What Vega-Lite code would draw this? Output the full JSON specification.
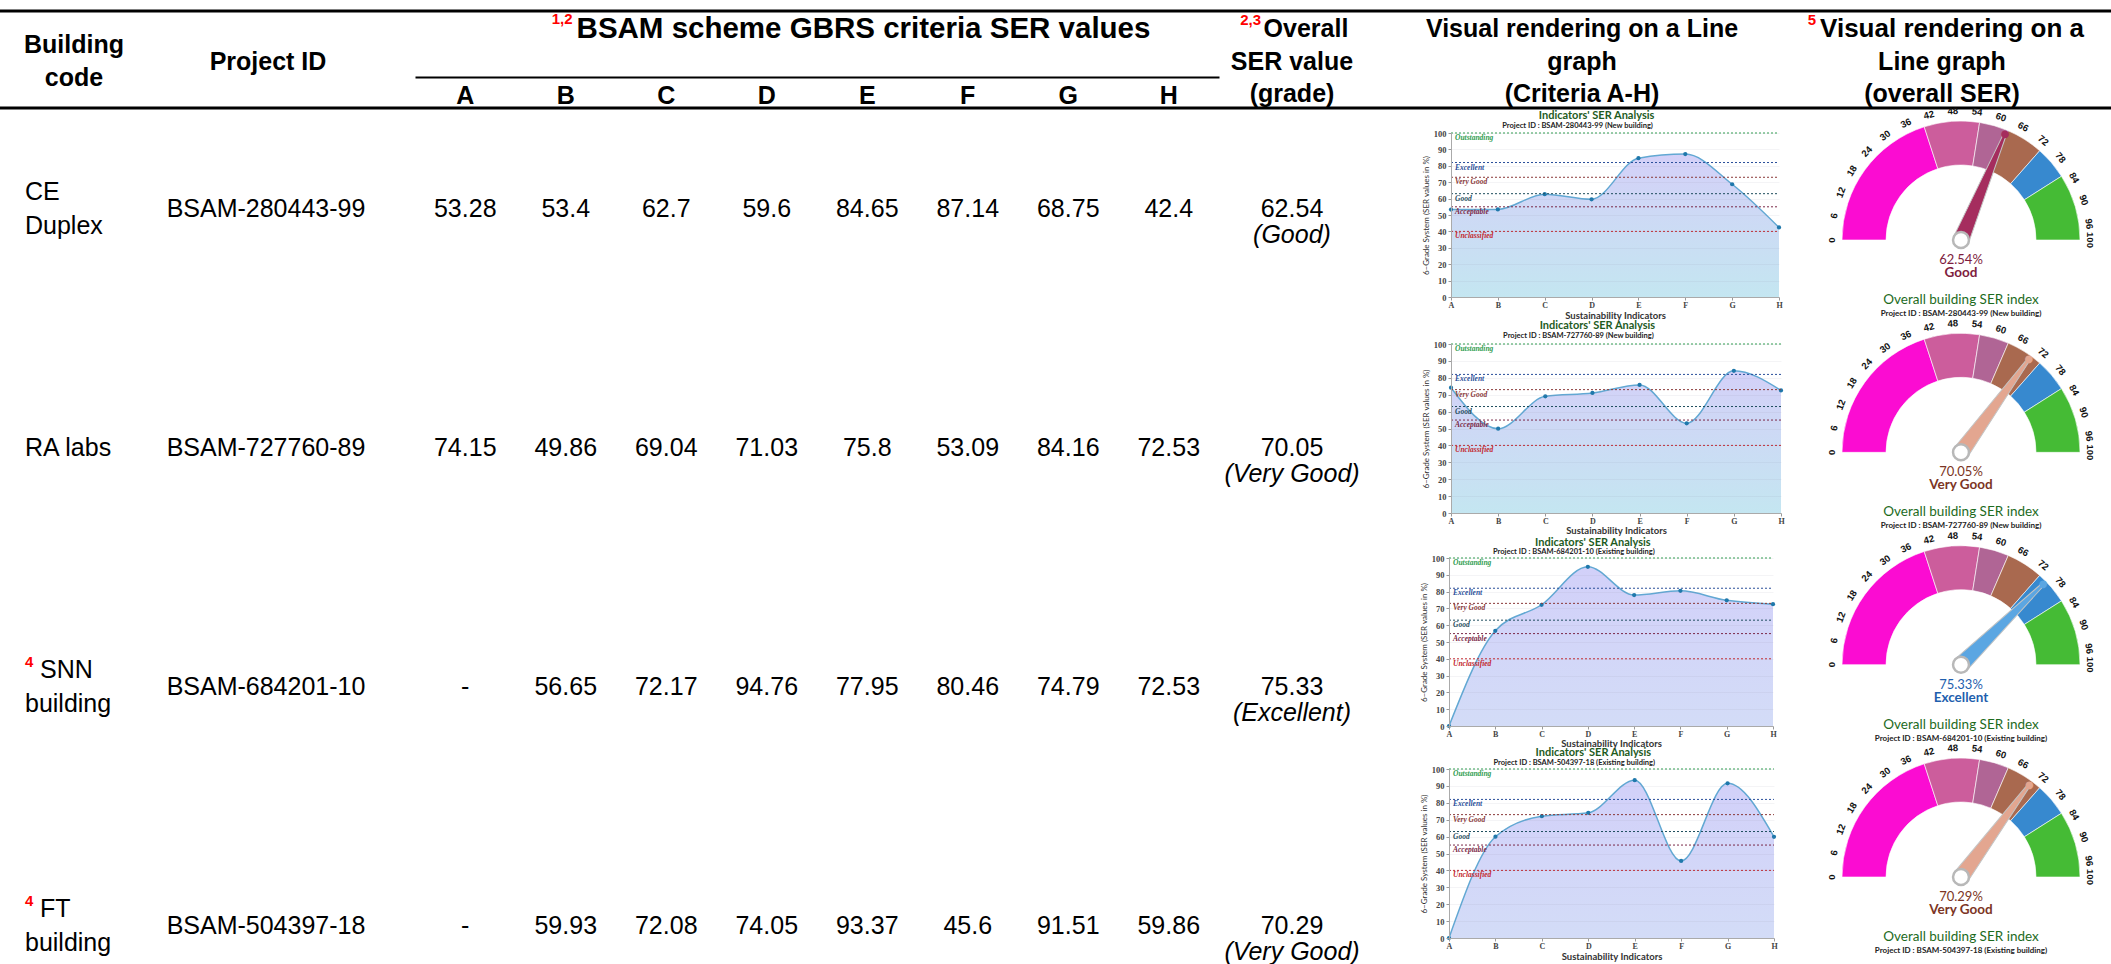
{
"$schema":"https://vega.github.io/schema/vega-lite/v6.json",
"width":2111,"height":964,"autosize":{"type":"none"},"padding":0,"background":"#ffffff",
"config":{"view":{"stroke":null},"font":"Liberation Sans"},
"datasets":{
"rules":[{"rule":"top"},{"rule":"bottom"}],
"header":[
{"col":"Building code","line":1.5,"text":"Building"},
{"col":"Building code","line":2.5,"text":"code"},
{"col":"Project ID","line":2,"text":"Project ID"},
{"col":"Criteria","line":1,"text":"BSAM scheme GBRS criteria SER values","sup":"1,2"},
{"col":"Overall","line":1,"text":"Overall","sup":"2,3"},
{"col":"Overall","line":2,"text":"SER value"},
{"col":"Overall","line":3,"text":"(grade)"},
{"col":"Line chart","line":1,"text":"Visual rendering on a Line"},
{"col":"Line chart","line":2,"text":"graph"},
{"col":"Line chart","line":3,"text":"(Criteria A-H)"},
{"col":"Gauge","line":1,"text":"Visual rendering on a","sup":"5"},
{"col":"Gauge","line":2,"text":"Line graph"},
{"col":"Gauge","line":3,"text":"(overall SER)"}
],
"rows":[
{"building":"CE Duplex","name1":"CE","name2":"Duplex","note":null,"project":"BSAM-280443-99","overall":62.54,"grade":"Good","type":"New building"},
{"building":"RA labs","name1":"RA labs","name2":null,"note":null,"project":"BSAM-727760-89","overall":70.05,"grade":"Very Good","type":"New building"},
{"building":"SNN building","name1":"SNN","name2":"building","note":"4","project":"BSAM-684201-10","overall":75.33,"grade":"Excellent","type":"Existing building"},
{"building":"FT building","name1":"FT","name2":"building","note":"4","project":"BSAM-504397-18","overall":70.29,"grade":"Very Good","type":"Existing building"}
],
"ser":[
{"building":"CE Duplex","criterion":"A","value":53.28},
{"building":"CE Duplex","criterion":"B","value":53.4},
{"building":"CE Duplex","criterion":"C","value":62.7},
{"building":"CE Duplex","criterion":"D","value":59.6},
{"building":"CE Duplex","criterion":"E","value":84.65},
{"building":"CE Duplex","criterion":"F","value":87.14},
{"building":"CE Duplex","criterion":"G","value":68.75},
{"building":"CE Duplex","criterion":"H","value":42.4},
{"building":"RA labs","criterion":"A","value":74.15},
{"building":"RA labs","criterion":"B","value":49.86},
{"building":"RA labs","criterion":"C","value":69.04},
{"building":"RA labs","criterion":"D","value":71.03},
{"building":"RA labs","criterion":"E","value":75.8},
{"building":"RA labs","criterion":"F","value":53.09},
{"building":"RA labs","criterion":"G","value":84.16},
{"building":"RA labs","criterion":"H","value":72.53},
{"building":"SNN building","criterion":"A","value":0,"assessed":false},
{"building":"SNN building","criterion":"B","value":56.65},
{"building":"SNN building","criterion":"C","value":72.17},
{"building":"SNN building","criterion":"D","value":94.76},
{"building":"SNN building","criterion":"E","value":77.95},
{"building":"SNN building","criterion":"F","value":80.46},
{"building":"SNN building","criterion":"G","value":74.79},
{"building":"SNN building","criterion":"H","value":72.53},
{"building":"FT building","criterion":"A","value":0,"assessed":false},
{"building":"FT building","criterion":"B","value":59.93},
{"building":"FT building","criterion":"C","value":72.08},
{"building":"FT building","criterion":"D","value":74.05},
{"building":"FT building","criterion":"E","value":93.37},
{"building":"FT building","criterion":"F","value":45.6},
{"building":"FT building","criterion":"G","value":91.51},
{"building":"FT building","criterion":"H","value":59.86}
],
"bands":[
{"grade":"Unclassified","from":0,"to":40,"building":["CE Duplex","RA labs","SNN building","FT building"]},
{"grade":"Acceptable","from":40,"to":55,"building":["CE Duplex","RA labs","SNN building","FT building"]},
{"grade":"Good","from":55,"to":63,"building":["CE Duplex","RA labs","SNN building","FT building"]},
{"grade":"Very Good","from":63,"to":73,"building":["CE Duplex","RA labs","SNN building","FT building"]},
{"grade":"Excellent","from":73,"to":82,"building":["CE Duplex","RA labs","SNN building","FT building"]},
{"grade":"Outstanding","from":82,"to":100,"building":["CE Duplex","RA labs","SNN building","FT building"]}
],
"dial":[
{"building":"CE Duplex","tick":[0,6,12,18,24,30,36,42,48,54,60,66,72,78,84,90,96,100]},
{"building":"RA labs","tick":[0,6,12,18,24,30,36,42,48,54,60,66,72,78,84,90,96,100]},
{"building":"SNN building","tick":[0,6,12,18,24,30,36,42,48,54,60,66,72,78,84,90,96,100]},
{"building":"FT building","tick":[0,6,12,18,24,30,36,42,48,54,60,66,72,78,84,90,96,100]}
]
},
"resolve":{"scale":{"x":"independent","y":"independent","color":"independent","theta":"independent","angle":"independent"},"axis":{"x":"independent","y":"independent"}},
"layer":[
{"data":{"name":"rules"},"mark":{"type":"rule","color":"#000000","strokeWidth":3},"encoding":{"y":{"field":"rule","type":"nominal","scale":{"type":"point","domain":["top","bottom"],"range":[11,108],"padding":0},"axis":null}}},

{"data":{"name":"header"},"transform":[{"filter":"datum.col === 'Building code'"}],"mark":{"type":"text","fontSize":25,"fontWeight":"bold","align":"center","baseline":"middle","color":"#000"},"encoding":{"x":{"field":"col","type":"nominal","scale":{"type":"point","domain":["Building code"],"range":[74,74],"padding":0},"axis":null},"y":{"field":"line","type":"quantitative","scale":{"domain":[1,3],"range":[29,94],"zero":false,"nice":false},"axis":null},"text":{"field":"text"}}},
{"data":{"name":"header"},"transform":[{"filter":"datum.col === 'Project ID'"}],"mark":{"type":"text","fontSize":25,"fontWeight":"bold","align":"center","baseline":"middle","color":"#000"},"encoding":{"x":{"field":"col","type":"nominal","scale":{"type":"point","domain":["Project ID"],"range":[268,268],"padding":0},"axis":null},"y":{"field":"line","type":"quantitative","scale":{"domain":[1,3],"range":[29,94],"zero":false,"nice":false},"axis":null},"text":{"field":"text"}}},
{"data":{"name":"header"},"transform":[{"filter":"datum.col === 'Criteria'"}],"mark":{"type":"text","fontSize":29.5,"fontWeight":"bold","align":"center","baseline":"middle","color":"#000","dx":12.5},"encoding":{"x":{"field":"col","type":"nominal","scale":{"type":"point","domain":["Criteria"],"range":[851,851],"padding":0},"axis":null},"y":{"field":"line","type":"quantitative","scale":{"domain":[1,3],"range":[29,94],"zero":false,"nice":false},"axis":null},"text":{"field":"text"}}},
{"data":{"name":"header"},"transform":[{"filter":"datum.col === 'Criteria'"}],"mark":{"type":"text","fontSize":15,"fontWeight":"bold","align":"right","baseline":"middle","color":"#ff0000","dx":-278.5,"dy":-10},"encoding":{"x":{"field":"col","type":"nominal","scale":{"type":"point","domain":["Criteria"],"range":[851,851],"padding":0},"axis":null},"y":{"field":"line","type":"quantitative","scale":{"domain":[1,3],"range":[29,94],"zero":false,"nice":false},"axis":null},"text":{"field":"sup"}}},
{"data":{"name":"header"},"transform":[{"filter":"datum.col === 'Overall' && !datum.sup"}],"mark":{"type":"text","fontSize":25,"fontWeight":"bold","align":"center","baseline":"middle","color":"#000"},"encoding":{"x":{"field":"col","type":"nominal","scale":{"type":"point","domain":["Overall"],"range":[1292,1292],"padding":0},"axis":null},"y":{"field":"line","type":"quantitative","scale":{"domain":[1,3],"range":[29,94],"zero":false,"nice":false},"axis":null},"text":{"field":"text"}}},
{"data":{"name":"header"},"transform":[{"filter":"datum.col === 'Overall' && datum.sup"}],"mark":{"type":"text","fontSize":25,"fontWeight":"bold","align":"center","baseline":"middle","color":"#000","dx":14},"encoding":{"x":{"field":"col","type":"nominal","scale":{"type":"point","domain":["Overall"],"range":[1292,1292],"padding":0},"axis":null},"y":{"field":"line","type":"quantitative","scale":{"domain":[1,3],"range":[29,94],"zero":false,"nice":false},"axis":null},"text":{"field":"text"}}},
{"data":{"name":"header"},"transform":[{"filter":"datum.col === 'Overall' && datum.sup"}],"mark":{"type":"text","fontSize":15,"fontWeight":"bold","align":"right","baseline":"middle","color":"#ff0000","dx":-31,"dy":-9},"encoding":{"x":{"field":"col","type":"nominal","scale":{"type":"point","domain":["Overall"],"range":[1292,1292],"padding":0},"axis":null},"y":{"field":"line","type":"quantitative","scale":{"domain":[1,3],"range":[29,94],"zero":false,"nice":false},"axis":null},"text":{"field":"sup"}}},
{"data":{"name":"header"},"transform":[{"filter":"datum.col === 'Line chart'"}],"mark":{"type":"text","fontSize":25,"fontWeight":"bold","align":"center","baseline":"middle","color":"#000"},"encoding":{"x":{"field":"col","type":"nominal","scale":{"type":"point","domain":["Line chart"],"range":[1582,1582],"padding":0},"axis":null},"y":{"field":"line","type":"quantitative","scale":{"domain":[1,3],"range":[29,94],"zero":false,"nice":false},"axis":null},"text":{"field":"text"}}},
{"data":{"name":"header"},"transform":[{"filter":"datum.col === 'Gauge' && !datum.sup"}],"mark":{"type":"text","fontSize":25,"fontWeight":"bold","align":"center","baseline":"middle","color":"#000"},"encoding":{"x":{"field":"col","type":"nominal","scale":{"type":"point","domain":["Gauge"],"range":[1942,1942],"padding":0},"axis":null},"y":{"field":"line","type":"quantitative","scale":{"domain":[1,3],"range":[29,94],"zero":false,"nice":false},"axis":null},"text":{"field":"text"}}},
{"data":{"name":"header"},"transform":[{"filter":"datum.col === 'Gauge' && datum.sup"}],"mark":{"type":"text","fontSize":26,"fontWeight":"bold","align":"center","baseline":"middle","color":"#000","dx":10},"encoding":{"x":{"field":"col","type":"nominal","scale":{"type":"point","domain":["Gauge"],"range":[1942,1942],"padding":0},"axis":null},"y":{"field":"line","type":"quantitative","scale":{"domain":[1,3],"range":[29,94],"zero":false,"nice":false},"axis":null},"text":{"field":"text"}}},
{"data":{"name":"header"},"transform":[{"filter":"datum.col === 'Gauge' && datum.sup"}],"mark":{"type":"text","fontSize":15,"fontWeight":"bold","align":"right","baseline":"middle","color":"#ff0000","dx":-126,"dy":-9},"encoding":{"x":{"field":"col","type":"nominal","scale":{"type":"point","domain":["Gauge"],"range":[1942,1942],"padding":0},"axis":null},"y":{"field":"line","type":"quantitative","scale":{"domain":[1,3],"range":[29,94],"zero":false,"nice":false},"axis":null},"text":{"field":"sup"}}},

{"data":{"name":"rows"},"transform":[{"filter":"datum.name2 == null"}],"mark":{"type":"text","fontSize":25,"align":"left","baseline":"middle","color":"#000"},"encoding":{"x":{"datum":"Building code","type":"nominal","scale":{"type":"point","domain":["Building code"],"range":[25,25],"padding":0},"axis":null},"y":{"field":"building","type":"nominal","scale":{"type":"point","domain":["CE Duplex","RA labs","SNN building","FT building"],"range":[209,926],"padding":0},"axis":null},"text":{"field":"name1"}}},
{"data":{"name":"rows"},"transform":[{"filter":"datum.name2 != null && datum.note == null"}],"mark":{"type":"text","fontSize":25,"align":"left","baseline":"middle","color":"#000","dy":-17},"encoding":{"x":{"datum":"Building code","type":"nominal","scale":{"type":"point","domain":["Building code"],"range":[25,25],"padding":0},"axis":null},"y":{"field":"building","type":"nominal","scale":{"type":"point","domain":["CE Duplex","RA labs","SNN building","FT building"],"range":[209,926],"padding":0},"axis":null},"text":{"field":"name1"}}},
{"data":{"name":"rows"},"transform":[{"filter":"datum.note != null"}],"mark":{"type":"text","fontSize":25,"align":"left","baseline":"middle","color":"#000","dy":-17,"dx":15},"encoding":{"x":{"datum":"Building code","type":"nominal","scale":{"type":"point","domain":["Building code"],"range":[25,25],"padding":0},"axis":null},"y":{"field":"building","type":"nominal","scale":{"type":"point","domain":["CE Duplex","RA labs","SNN building","FT building"],"range":[209,926],"padding":0},"axis":null},"text":{"field":"name1"}}},
{"data":{"name":"rows"},"transform":[{"filter":"datum.note != null"}],"mark":{"type":"text","fontSize":15,"fontWeight":"bold","align":"left","baseline":"middle","color":"#ff0000","dy":-25},"encoding":{"x":{"datum":"Building code","type":"nominal","scale":{"type":"point","domain":["Building code"],"range":[25,25],"padding":0},"axis":null},"y":{"field":"building","type":"nominal","scale":{"type":"point","domain":["CE Duplex","RA labs","SNN building","FT building"],"range":[209,926],"padding":0},"axis":null},"text":{"field":"note"}}},
{"data":{"name":"rows"},"transform":[{"filter":"datum.name2 != null"}],"mark":{"type":"text","fontSize":25,"align":"left","baseline":"middle","color":"#000","dy":17},"encoding":{"x":{"datum":"Building code","type":"nominal","scale":{"type":"point","domain":["Building code"],"range":[25,25],"padding":0},"axis":null},"y":{"field":"building","type":"nominal","scale":{"type":"point","domain":["CE Duplex","RA labs","SNN building","FT building"],"range":[209,926],"padding":0},"axis":null},"text":{"field":"name2"}}},
{"data":{"name":"rows"},"mark":{"type":"text","fontSize":25,"align":"center","baseline":"middle","color":"#000"},"encoding":{"x":{"datum":"Project ID","type":"nominal","scale":{"type":"point","domain":["Project ID"],"range":[266,266],"padding":0},"axis":null},"y":{"field":"building","type":"nominal","scale":{"type":"point","domain":["CE Duplex","RA labs","SNN building","FT building"],"range":[209,926],"padding":0},"axis":null},"text":{"field":"project"}}},
{"data":{"name":"ser"},"mark":{"type":"text","fontSize":25,"align":"center","baseline":"middle","color":"#000"},"encoding":{"x":{"field":"criterion","type":"nominal","scale":{"type":"band","domain":["A","B","C","D","E","F","G","H"],"range":[415,1219],"paddingInner":0,"paddingOuter":0},"axis":{"orient":"bottom","offset":-887,"title":null,"ticks":false,"domainColor":"#000","domainWidth":2,"labelFont":"Liberation Sans","labelFontSize":25,"labelFontWeight":"bold","labelColor":"#000","labelAngle":0,"labelPadding":6,"grid":false}},"y":{"field":"building","type":"nominal","scale":{"type":"point","domain":["CE Duplex","RA labs","SNN building","FT building"],"range":[209,926],"padding":0},"axis":null},"text":{"condition":{"test":"datum.assessed === false","value":"-"},"field":"value","type":"quantitative"}}},
{"data":{"name":"rows"},"mark":{"type":"text","fontSize":25,"align":"center","baseline":"middle","color":"#000"},"encoding":{"x":{"datum":"Overall","type":"nominal","scale":{"type":"point","domain":["Overall"],"range":[1292,1292],"padding":0},"axis":null},"y":{"field":"building","type":"nominal","scale":{"type":"point","domain":["CE Duplex","RA labs","SNN building","FT building"],"range":[209,926],"padding":0},"axis":null},"text":{"field":"overall","type":"quantitative"}}},
{"data":{"name":"rows"},"transform":[{"calculate":"'(' + datum.grade + ')'","as":"gradeLabel"}],"mark":{"type":"text","fontSize":25,"fontStyle":"italic","align":"center","baseline":"middle","color":"#000","dy":26},"encoding":{"x":{"datum":"Overall","type":"nominal","scale":{"type":"point","domain":["Overall"],"range":[1292,1292],"padding":0},"axis":null},"y":{"field":"building","type":"nominal","scale":{"type":"point","domain":["CE Duplex","RA labs","SNN building","FT building"],"range":[209,926],"padding":0},"axis":null},"text":{"field":"gradeLabel"}}},

{"data":{"name":"ser"},"transform":[{"filter":"datum.building === 'CE Duplex'"}],"mark":{"type":"area","interpolate":"monotone","opacity":1,"color":{"gradient":"linear","x1":0,"y1":0,"x2":0,"y2":1,"stops":[{"offset":0,"color":"#d4d0f8"},{"offset":0.55,"color":"#cbdcf4"},{"offset":1,"color":"#c4e6f1"}]}},"encoding":{"x":{"field":"criterion","type":"ordinal","scale":{"type":"point","domain":["A","B","C","D","E","F","G","H"],"range":[1451,1779],"padding":0},"axis":{"orient":"bottom","offset":-667,"title":"Sustainability Indicators","titleFont":"Lato","titleFontSize":9.5,"titleFontWeight":"bold","titleColor":"#333","titlePadding":1,"labelFont":"Liberation Serif","labelFontSize":8,"labelFontWeight":"bold","labelColor":"#444","labelAngle":0,"labelPadding":1,"tickSize":3,"tickColor":"#999","domainColor":"#aaa","grid":false,"zindex":1}},"y":{"field":"value","type":"quantitative","scale":{"domain":[0,100],"range":[297,133],"nice":false,"zero":false},"axis":{"orient":"left","offset":-1451,"title":"6–Grade System (SER values in %)","titleFont":"Lato","titleFontSize":8,"titleFontWeight":"normal","titleColor":"#333","titlePadding":3,"values":[0,10,20,30,40,50,60,70,80,90,100],"labelFont":"Liberation Serif","labelFontSize":8.5,"labelFontWeight":"bold","labelColor":"#444","labelPadding":2,"tickSize":3,"tickColor":"#999","domainColor":"#aaa","grid":true,"gridColor":"#8080a0","gridOpacity":0.18,"gridWidth":0.5,"zindex":1}}}},
{"layer":[
{"data":{"name":"ser"},"transform":[{"filter":"datum.building === 'CE Duplex'"}],"mark":{"type":"line","interpolate":"monotone","color":"#62a8d3","strokeWidth":1.5},"encoding":{"x":{"field":"criterion","type":"ordinal","scale":{"type":"point","domain":["A","B","C","D","E","F","G","H"],"range":[1451,1779],"padding":0},"axis":null},"y":{"field":"value","type":"quantitative","scale":{"domain":[0,100],"range":[297,133],"nice":false,"zero":false},"axis":null}}},
{"data":{"name":"ser"},"transform":[{"filter":"datum.building === 'CE Duplex'"}],"mark":{"type":"point","filled":true,"color":"#1f78ab","size":18,"opacity":1},"encoding":{"x":{"field":"criterion","type":"ordinal","scale":{"type":"point","domain":["A","B","C","D","E","F","G","H"],"range":[1451,1779],"padding":0},"axis":null},"y":{"field":"value","type":"quantitative","scale":{"domain":[0,100],"range":[297,133],"nice":false,"zero":false},"axis":null}}},
{"data":{"name":"bands"},"mark":{"type":"rule","strokeDash":[2,2],"strokeWidth":1},"encoding":{"x":{"datum":"A","type":"ordinal","scale":{"type":"point","domain":["A","B","C","D","E","F","G","H"],"range":[1451,1779],"padding":0},"axis":null},"x2":{"datum":"H"},"y":{"field":"to","type":"quantitative","scale":{"domain":[0,100],"range":[297,133],"nice":false,"zero":false},"axis":null},"color":{"field":"grade","type":"nominal","scale":{"domain":["Unclassified","Acceptable","Good","Very Good","Excellent","Outstanding"],"range":["#c3282e","#7b2948","#1f4e5e","#8a3838","#2a4f9a","#2f9d4f"]},"legend":null}}},
{"data":{"name":"bands"},"mark":{"type":"text","align":"left","baseline":"middle","dx":4,"dy":5,"font":"Liberation Serif","fontStyle":"italic","fontWeight":"bold","fontSize":7.5},"encoding":{"x":{"datum":"A","type":"ordinal","scale":{"type":"point","domain":["A","B","C","D","E","F","G","H"],"range":[1451,1779],"padding":0},"axis":null},"y":{"field":"to","type":"quantitative","scale":{"domain":[0,100],"range":[297,133],"nice":false,"zero":false},"axis":null},"text":{"field":"grade"},"color":{"field":"grade","type":"nominal","scale":{"domain":["Unclassified","Acceptable","Good","Very Good","Excellent","Outstanding"],"range":["#c3282e","#7b2948","#1f4e5e","#8a3838","#2a4f9a","#2f9d4f"]},"legend":null}}},
{"data":{"name":"rows"},"transform":[{"filter":"datum.building === 'CE Duplex'"}],"mark":{"type":"text","font":"Lato","fontWeight":"bold","fontSize":11,"color":"#1e5b1e","dy":-17,"dx":5,"align":"center","baseline":"middle"},"encoding":{"x":{"datum":"D","type":"ordinal","scale":{"type":"point","domain":["A","B","C","D","E","F","G","H"],"range":[1451,1779],"padding":0},"axis":null},"y":{"datum":100,"type":"quantitative","scale":{"domain":[0,100],"range":[297,133],"nice":false,"zero":false},"axis":null},"text":{"value":"Indicators' SER Analysis"}}},
{"data":{"name":"rows"},"transform":[{"filter":"datum.building === 'CE Duplex'"},{"calculate":"'Project ID : ' + datum.project + ' (' + datum.type + ')'","as":"sub"}],"mark":{"type":"text","font":"Lato","fontWeight":"bold","fontSize":7.5,"color":"#222","dy":-7,"dx":-14,"align":"center","baseline":"middle"},"encoding":{"x":{"datum":"D","type":"ordinal","scale":{"type":"point","domain":["A","B","C","D","E","F","G","H"],"range":[1451,1779],"padding":0},"axis":null},"y":{"datum":100,"type":"quantitative","scale":{"domain":[0,100],"range":[297,133],"nice":false,"zero":false},"axis":null},"text":{"field":"sub"}}}
]},

{"data":{"name":"ser"},"transform":[{"filter":"datum.building === 'RA labs'"}],"mark":{"type":"area","interpolate":"monotone","opacity":1,"color":{"gradient":"linear","x1":0,"y1":0,"x2":0,"y2":1,"stops":[{"offset":0,"color":"#d4d0f8"},{"offset":0.55,"color":"#cbdcf4"},{"offset":1,"color":"#c4e6f1"}]}},"encoding":{"x":{"field":"criterion","type":"ordinal","scale":{"type":"point","domain":["A","B","C","D","E","F","G","H"],"range":[1451,1781],"padding":0},"axis":{"orient":"bottom","offset":-451,"title":"Sustainability Indicators","titleFont":"Lato","titleFontSize":9.5,"titleFontWeight":"bold","titleColor":"#333","titlePadding":0,"labelFont":"Liberation Serif","labelFontSize":8,"labelFontWeight":"bold","labelColor":"#444","labelAngle":0,"labelPadding":1,"tickSize":3,"tickColor":"#999","domainColor":"#aaa","grid":false,"zindex":1}},"y":{"field":"value","type":"quantitative","scale":{"domain":[0,100],"range":[513,344],"nice":false,"zero":false},"axis":{"orient":"left","offset":-1451,"title":"6–Grade System (SER values in %)","titleFont":"Lato","titleFontSize":8,"titleFontWeight":"normal","titleColor":"#333","titlePadding":3,"values":[0,10,20,30,40,50,60,70,80,90,100],"labelFont":"Liberation Serif","labelFontSize":8.5,"labelFontWeight":"bold","labelColor":"#444","labelPadding":2,"tickSize":3,"tickColor":"#999","domainColor":"#aaa","grid":true,"gridColor":"#8080a0","gridOpacity":0.18,"gridWidth":0.5,"zindex":1}}}},
{"layer":[
{"data":{"name":"ser"},"transform":[{"filter":"datum.building === 'RA labs'"}],"mark":{"type":"line","interpolate":"monotone","color":"#62a8d3","strokeWidth":1.5},"encoding":{"x":{"field":"criterion","type":"ordinal","scale":{"type":"point","domain":["A","B","C","D","E","F","G","H"],"range":[1451,1781],"padding":0},"axis":null},"y":{"field":"value","type":"quantitative","scale":{"domain":[0,100],"range":[513,344],"nice":false,"zero":false},"axis":null}}},
{"data":{"name":"ser"},"transform":[{"filter":"datum.building === 'RA labs'"}],"mark":{"type":"point","filled":true,"color":"#1f78ab","size":18,"opacity":1},"encoding":{"x":{"field":"criterion","type":"ordinal","scale":{"type":"point","domain":["A","B","C","D","E","F","G","H"],"range":[1451,1781],"padding":0},"axis":null},"y":{"field":"value","type":"quantitative","scale":{"domain":[0,100],"range":[513,344],"nice":false,"zero":false},"axis":null}}},
{"data":{"name":"bands"},"mark":{"type":"rule","strokeDash":[2,2],"strokeWidth":1},"encoding":{"x":{"datum":"A","type":"ordinal","scale":{"type":"point","domain":["A","B","C","D","E","F","G","H"],"range":[1451,1781],"padding":0},"axis":null},"x2":{"datum":"H"},"y":{"field":"to","type":"quantitative","scale":{"domain":[0,100],"range":[513,344],"nice":false,"zero":false},"axis":null},"color":{"field":"grade","type":"nominal","scale":{"domain":["Unclassified","Acceptable","Good","Very Good","Excellent","Outstanding"],"range":["#c3282e","#7b2948","#1f4e5e","#8a3838","#2a4f9a","#2f9d4f"]},"legend":null}}},
{"data":{"name":"bands"},"mark":{"type":"text","align":"left","baseline":"middle","dx":4,"dy":5,"font":"Liberation Serif","fontStyle":"italic","fontWeight":"bold","fontSize":7.5},"encoding":{"x":{"datum":"A","type":"ordinal","scale":{"type":"point","domain":["A","B","C","D","E","F","G","H"],"range":[1451,1781],"padding":0},"axis":null},"y":{"field":"to","type":"quantitative","scale":{"domain":[0,100],"range":[513,344],"nice":false,"zero":false},"axis":null},"text":{"field":"grade"},"color":{"field":"grade","type":"nominal","scale":{"domain":["Unclassified","Acceptable","Good","Very Good","Excellent","Outstanding"],"range":["#c3282e","#7b2948","#1f4e5e","#8a3838","#2a4f9a","#2f9d4f"]},"legend":null}}},
{"data":{"name":"rows"},"transform":[{"filter":"datum.building === 'RA labs'"}],"mark":{"type":"text","font":"Lato","fontWeight":"bold","fontSize":11,"color":"#1e5b1e","dy":-18,"dx":5,"align":"center","baseline":"middle"},"encoding":{"x":{"datum":"D","type":"ordinal","scale":{"type":"point","domain":["A","B","C","D","E","F","G","H"],"range":[1451,1781],"padding":0},"axis":null},"y":{"datum":100,"type":"quantitative","scale":{"domain":[0,100],"range":[513,344],"nice":false,"zero":false},"axis":null},"text":{"value":"Indicators' SER Analysis"}}},
{"data":{"name":"rows"},"transform":[{"filter":"datum.building === 'RA labs'"},{"calculate":"'Project ID : ' + datum.project + ' (' + datum.type + ')'","as":"sub"}],"mark":{"type":"text","font":"Lato","fontWeight":"bold","fontSize":7.5,"color":"#222","dy":-8,"dx":-14,"align":"center","baseline":"middle"},"encoding":{"x":{"datum":"D","type":"ordinal","scale":{"type":"point","domain":["A","B","C","D","E","F","G","H"],"range":[1451,1781],"padding":0},"axis":null},"y":{"datum":100,"type":"quantitative","scale":{"domain":[0,100],"range":[513,344],"nice":false,"zero":false},"axis":null},"text":{"field":"sub"}}}
]},

{"data":{"name":"ser"},"transform":[{"filter":"datum.building === 'SNN building'"}],"mark":{"type":"area","interpolate":"monotone","opacity":1,"color":{"gradient":"linear","x1":0,"y1":0,"x2":0,"y2":1,"stops":[{"offset":0,"color":"#d2d0f9"},{"offset":1,"color":"#d3dcf7"}]}},"encoding":{"x":{"field":"criterion","type":"ordinal","scale":{"type":"point","domain":["A","B","C","D","E","F","G","H"],"range":[1449,1773],"padding":0},"axis":{"orient":"bottom","offset":-238,"title":"Sustainability Indicators","titleFont":"Lato","titleFontSize":9.5,"titleFontWeight":"bold","titleColor":"#333","titlePadding":0,"labelFont":"Liberation Serif","labelFontSize":8,"labelFontWeight":"bold","labelColor":"#444","labelAngle":0,"labelPadding":1,"tickSize":3,"tickColor":"#999","domainColor":"#aaa","grid":false,"zindex":1}},"y":{"field":"value","type":"quantitative","scale":{"domain":[0,100],"range":[726,558],"nice":false,"zero":false},"axis":{"orient":"left","offset":-1449,"title":"6–Grade System (SER values in %)","titleFont":"Lato","titleFontSize":8,"titleFontWeight":"normal","titleColor":"#333","titlePadding":3,"values":[0,10,20,30,40,50,60,70,80,90,100],"labelFont":"Liberation Serif","labelFontSize":8.5,"labelFontWeight":"bold","labelColor":"#444","labelPadding":2,"tickSize":3,"tickColor":"#999","domainColor":"#aaa","grid":true,"gridColor":"#8080a0","gridOpacity":0.18,"gridWidth":0.5,"zindex":1}}}},
{"layer":[
{"data":{"name":"ser"},"transform":[{"filter":"datum.building === 'SNN building'"}],"mark":{"type":"line","interpolate":"monotone","color":"#62a8d3","strokeWidth":1.5},"encoding":{"x":{"field":"criterion","type":"ordinal","scale":{"type":"point","domain":["A","B","C","D","E","F","G","H"],"range":[1449,1773],"padding":0},"axis":null},"y":{"field":"value","type":"quantitative","scale":{"domain":[0,100],"range":[726,558],"nice":false,"zero":false},"axis":null}}},
{"data":{"name":"ser"},"transform":[{"filter":"datum.building === 'SNN building'"}],"mark":{"type":"point","filled":true,"color":"#1f78ab","size":18,"opacity":1},"encoding":{"x":{"field":"criterion","type":"ordinal","scale":{"type":"point","domain":["A","B","C","D","E","F","G","H"],"range":[1449,1773],"padding":0},"axis":null},"y":{"field":"value","type":"quantitative","scale":{"domain":[0,100],"range":[726,558],"nice":false,"zero":false},"axis":null}}},
{"data":{"name":"bands"},"mark":{"type":"rule","strokeDash":[2,2],"strokeWidth":1},"encoding":{"x":{"datum":"A","type":"ordinal","scale":{"type":"point","domain":["A","B","C","D","E","F","G","H"],"range":[1449,1773],"padding":0},"axis":null},"x2":{"datum":"H"},"y":{"field":"to","type":"quantitative","scale":{"domain":[0,100],"range":[726,558],"nice":false,"zero":false},"axis":null},"color":{"field":"grade","type":"nominal","scale":{"domain":["Unclassified","Acceptable","Good","Very Good","Excellent","Outstanding"],"range":["#c3282e","#7b2948","#1f4e5e","#8a3838","#2a4f9a","#2f9d4f"]},"legend":null}}},
{"data":{"name":"bands"},"mark":{"type":"text","align":"left","baseline":"middle","dx":4,"dy":5,"font":"Liberation Serif","fontStyle":"italic","fontWeight":"bold","fontSize":7.5},"encoding":{"x":{"datum":"A","type":"ordinal","scale":{"type":"point","domain":["A","B","C","D","E","F","G","H"],"range":[1449,1773],"padding":0},"axis":null},"y":{"field":"to","type":"quantitative","scale":{"domain":[0,100],"range":[726,558],"nice":false,"zero":false},"axis":null},"text":{"field":"grade"},"color":{"field":"grade","type":"nominal","scale":{"domain":["Unclassified","Acceptable","Good","Very Good","Excellent","Outstanding"],"range":["#c3282e","#7b2948","#1f4e5e","#8a3838","#2a4f9a","#2f9d4f"]},"legend":null}}},
{"data":{"name":"rows"},"transform":[{"filter":"datum.building === 'SNN building'"}],"mark":{"type":"text","font":"Lato","fontWeight":"bold","fontSize":11,"color":"#1e5b1e","dy":-15.5,"dx":5,"align":"center","baseline":"middle"},"encoding":{"x":{"datum":"D","type":"ordinal","scale":{"type":"point","domain":["A","B","C","D","E","F","G","H"],"range":[1449,1773],"padding":0},"axis":null},"y":{"datum":100,"type":"quantitative","scale":{"domain":[0,100],"range":[726,558],"nice":false,"zero":false},"axis":null},"text":{"value":"Indicators' SER Analysis"}}},
{"data":{"name":"rows"},"transform":[{"filter":"datum.building === 'SNN building'"},{"calculate":"'Project ID : ' + datum.project + ' (' + datum.type + ')'","as":"sub"}],"mark":{"type":"text","font":"Lato","fontWeight":"bold","fontSize":7.5,"color":"#222","dy":-6,"dx":-14,"align":"center","baseline":"middle"},"encoding":{"x":{"datum":"D","type":"ordinal","scale":{"type":"point","domain":["A","B","C","D","E","F","G","H"],"range":[1449,1773],"padding":0},"axis":null},"y":{"datum":100,"type":"quantitative","scale":{"domain":[0,100],"range":[726,558],"nice":false,"zero":false},"axis":null},"text":{"field":"sub"}}}
]},

{"data":{"name":"ser"},"transform":[{"filter":"datum.building === 'FT building'"}],"mark":{"type":"area","interpolate":"monotone","opacity":1,"color":{"gradient":"linear","x1":0,"y1":0,"x2":0,"y2":1,"stops":[{"offset":0,"color":"#d2d0f9"},{"offset":1,"color":"#d3dcf7"}]}},"encoding":{"x":{"field":"criterion","type":"ordinal","scale":{"type":"point","domain":["A","B","C","D","E","F","G","H"],"range":[1449,1774],"padding":0},"axis":{"orient":"bottom","offset":-26,"title":"Sustainability Indicators","titleFont":"Lato","titleFontSize":9.5,"titleFontWeight":"bold","titleColor":"#333","titlePadding":1,"labelFont":"Liberation Serif","labelFontSize":8,"labelFontWeight":"bold","labelColor":"#444","labelAngle":0,"labelPadding":1,"tickSize":3,"tickColor":"#999","domainColor":"#aaa","grid":false,"zindex":1}},"y":{"field":"value","type":"quantitative","scale":{"domain":[0,100],"range":[938,769],"nice":false,"zero":false},"axis":{"orient":"left","offset":-1449,"title":"6–Grade System (SER values in %)","titleFont":"Lato","titleFontSize":8,"titleFontWeight":"normal","titleColor":"#333","titlePadding":3,"values":[0,10,20,30,40,50,60,70,80,90,100],"labelFont":"Liberation Serif","labelFontSize":8.5,"labelFontWeight":"bold","labelColor":"#444","labelPadding":2,"tickSize":3,"tickColor":"#999","domainColor":"#aaa","grid":true,"gridColor":"#8080a0","gridOpacity":0.18,"gridWidth":0.5,"zindex":1}}}},
{"layer":[
{"data":{"name":"ser"},"transform":[{"filter":"datum.building === 'FT building'"}],"mark":{"type":"line","interpolate":"monotone","color":"#62a8d3","strokeWidth":1.5},"encoding":{"x":{"field":"criterion","type":"ordinal","scale":{"type":"point","domain":["A","B","C","D","E","F","G","H"],"range":[1449,1774],"padding":0},"axis":null},"y":{"field":"value","type":"quantitative","scale":{"domain":[0,100],"range":[938,769],"nice":false,"zero":false},"axis":null}}},
{"data":{"name":"ser"},"transform":[{"filter":"datum.building === 'FT building'"}],"mark":{"type":"point","filled":true,"color":"#1f78ab","size":18,"opacity":1},"encoding":{"x":{"field":"criterion","type":"ordinal","scale":{"type":"point","domain":["A","B","C","D","E","F","G","H"],"range":[1449,1774],"padding":0},"axis":null},"y":{"field":"value","type":"quantitative","scale":{"domain":[0,100],"range":[938,769],"nice":false,"zero":false},"axis":null}}},
{"data":{"name":"bands"},"mark":{"type":"rule","strokeDash":[2,2],"strokeWidth":1},"encoding":{"x":{"datum":"A","type":"ordinal","scale":{"type":"point","domain":["A","B","C","D","E","F","G","H"],"range":[1449,1774],"padding":0},"axis":null},"x2":{"datum":"H"},"y":{"field":"to","type":"quantitative","scale":{"domain":[0,100],"range":[938,769],"nice":false,"zero":false},"axis":null},"color":{"field":"grade","type":"nominal","scale":{"domain":["Unclassified","Acceptable","Good","Very Good","Excellent","Outstanding"],"range":["#c3282e","#7b2948","#1f4e5e","#8a3838","#2a4f9a","#2f9d4f"]},"legend":null}}},
{"data":{"name":"bands"},"mark":{"type":"text","align":"left","baseline":"middle","dx":4,"dy":5,"font":"Liberation Serif","fontStyle":"italic","fontWeight":"bold","fontSize":7.5},"encoding":{"x":{"datum":"A","type":"ordinal","scale":{"type":"point","domain":["A","B","C","D","E","F","G","H"],"range":[1449,1774],"padding":0},"axis":null},"y":{"field":"to","type":"quantitative","scale":{"domain":[0,100],"range":[938,769],"nice":false,"zero":false},"axis":null},"text":{"field":"grade"},"color":{"field":"grade","type":"nominal","scale":{"domain":["Unclassified","Acceptable","Good","Very Good","Excellent","Outstanding"],"range":["#c3282e","#7b2948","#1f4e5e","#8a3838","#2a4f9a","#2f9d4f"]},"legend":null}}},
{"data":{"name":"rows"},"transform":[{"filter":"datum.building === 'FT building'"}],"mark":{"type":"text","font":"Lato","fontWeight":"bold","fontSize":11,"color":"#1e5b1e","dy":-16,"dx":5,"align":"center","baseline":"middle"},"encoding":{"x":{"datum":"D","type":"ordinal","scale":{"type":"point","domain":["A","B","C","D","E","F","G","H"],"range":[1449,1774],"padding":0},"axis":null},"y":{"datum":100,"type":"quantitative","scale":{"domain":[0,100],"range":[938,769],"nice":false,"zero":false},"axis":null},"text":{"value":"Indicators' SER Analysis"}}},
{"data":{"name":"rows"},"transform":[{"filter":"datum.building === 'FT building'"},{"calculate":"'Project ID : ' + datum.project + ' (' + datum.type + ')'","as":"sub"}],"mark":{"type":"text","font":"Lato","fontWeight":"bold","fontSize":7.5,"color":"#222","dy":-6.5,"dx":-14,"align":"center","baseline":"middle"},"encoding":{"x":{"datum":"D","type":"ordinal","scale":{"type":"point","domain":["A","B","C","D","E","F","G","H"],"range":[1449,1774],"padding":0},"axis":null},"y":{"datum":100,"type":"quantitative","scale":{"domain":[0,100],"range":[938,769],"nice":false,"zero":false},"axis":null},"text":{"field":"sub"}}}
]},

{"resolve":{"scale":{"color":"independent"}},
"layer":[
{"data":{"name":"bands"},"transform":[{"flatten":["building"]}],"mark":{"type":"arc","radius":119,"radius2":75,"stroke":"#ffffff","strokeWidth":0.6},"encoding":{"x":{"field":"building","type":"nominal","scale":{"type":"point","domain":["CE Duplex","RA labs","SNN building","FT building"],"range":[1961,1961],"padding":0},"axis":null},"y":{"field":"building","type":"nominal","scale":{"type":"point","domain":["CE Duplex","RA labs","SNN building","FT building"],"range":[240,877],"padding":0},"axis":null},"theta":{"field":"from","type":"quantitative","stack":null,"scale":{"domain":[0,100],"range":[-1.5708,1.5708]}},"theta2":{"field":"to"},"color":{"field":"grade","type":"nominal","scale":{"domain":["Unclassified","Acceptable","Good","Very Good","Excellent","Outstanding"],"range":["#fb0cd2","#cc5d9c","#b06595","#a9694f","#3789cf","#45bb35"]},"legend":null}}},
{"data":{"name":"dial"},"transform":[{"flatten":["tick"]}],"mark":{"type":"text","radius":129,"font":"Liberation Sans","fontWeight":"bold","fontSize":9.5,"color":"#111","align":"center","baseline":"middle"},"encoding":{"x":{"field":"building","type":"nominal","scale":{"type":"point","domain":["CE Duplex","RA labs","SNN building","FT building"],"range":[1961,1961],"padding":0},"axis":null},"y":{"field":"building","type":"nominal","scale":{"type":"point","domain":["CE Duplex","RA labs","SNN building","FT building"],"range":[240,877],"padding":0},"axis":null},"theta":{"field":"tick","type":"quantitative","scale":{"domain":[0,100],"range":[-1.5708,1.5708]}},"angle":{"field":"tick","type":"quantitative","scale":{"domain":[0,100],"range":[-90,90]}},"text":{"field":"tick","type":"quantitative"}}},
{"data":{"name":"rows"},"mark":{"type":"point","shape":"M -0.07 0 L -0.012 -1 L 0.012 -1 L 0.07 0 Z","size":53824,"filled":true,"opacity":1,"stroke":"#c4c4c4","strokeWidth":1},"encoding":{"x":{"field":"building","type":"nominal","scale":{"type":"point","domain":["CE Duplex","RA labs","SNN building","FT building"],"range":[1961,1961],"padding":0},"axis":null},"y":{"field":"building","type":"nominal","scale":{"type":"point","domain":["CE Duplex","RA labs","SNN building","FT building"],"range":[240,877],"padding":0},"axis":null},"angle":{"field":"overall","type":"quantitative","scale":{"domain":[0,100],"range":[-90,90]}},"color":{"field":"grade","type":"nominal","scale":{"domain":["Good","Very Good","Excellent"],"range":["#a52d5e","#e3a690","#5ba6e2"]},"legend":null}}},
{"data":{"name":"rows"},"mark":{"type":"text","text":"●","radius":115,"fontSize":10,"align":"center","baseline":"middle","font":"DejaVu Sans"},"encoding":{"x":{"field":"building","type":"nominal","scale":{"type":"point","domain":["CE Duplex","RA labs","SNN building","FT building"],"range":[1961,1961],"padding":0},"axis":null},"y":{"field":"building","type":"nominal","scale":{"type":"point","domain":["CE Duplex","RA labs","SNN building","FT building"],"range":[240,877],"padding":0},"axis":null},"theta":{"field":"overall","type":"quantitative","scale":{"domain":[0,100],"range":[-1.5708,1.5708]}},"color":{"field":"grade","type":"nominal","scale":{"domain":["Good","Very Good","Excellent"],"range":["#a52d5e","#e3a690","#5ba6e2"]},"legend":null}}},
{"data":{"name":"rows"},"mark":{"type":"point","shape":"circle","size":254,"fill":"#ffffff","stroke":"#b8b8b8","strokeWidth":2.5,"opacity":1},"encoding":{"x":{"field":"building","type":"nominal","scale":{"type":"point","domain":["CE Duplex","RA labs","SNN building","FT building"],"range":[1961,1961],"padding":0},"axis":null},"y":{"field":"building","type":"nominal","scale":{"type":"point","domain":["CE Duplex","RA labs","SNN building","FT building"],"range":[240,877],"padding":0},"axis":null}}},
{"data":{"name":"rows"},"transform":[{"calculate":"format(datum.overall, '.2f') + '%'","as":"pct"}],"mark":{"type":"text","font":"Lato","fontSize":13,"align":"center","baseline":"middle","dy":20},"encoding":{"x":{"field":"building","type":"nominal","scale":{"type":"point","domain":["CE Duplex","RA labs","SNN building","FT building"],"range":[1961,1961],"padding":0},"axis":null},"y":{"field":"building","type":"nominal","scale":{"type":"point","domain":["CE Duplex","RA labs","SNN building","FT building"],"range":[240,877],"padding":0},"axis":null},"text":{"field":"pct"},"color":{"field":"grade","type":"nominal","scale":{"domain":["Good","Very Good","Excellent"],"range":["#7e1d3e","#7c3524","#1f5fae"]},"legend":null}}},
{"data":{"name":"rows"},"mark":{"type":"text","font":"Lato","fontSize":13.5,"fontWeight":"bold","align":"center","baseline":"middle","dy":33},"encoding":{"x":{"field":"building","type":"nominal","scale":{"type":"point","domain":["CE Duplex","RA labs","SNN building","FT building"],"range":[1961,1961],"padding":0},"axis":null},"y":{"field":"building","type":"nominal","scale":{"type":"point","domain":["CE Duplex","RA labs","SNN building","FT building"],"range":[240,877],"padding":0},"axis":null},"text":{"field":"grade"},"color":{"field":"grade","type":"nominal","scale":{"domain":["Good","Very Good","Excellent"],"range":["#7e1d3e","#7c3524","#1f5fae"]},"legend":null}}},
{"data":{"name":"rows"},"mark":{"type":"text","font":"Lato","fontSize":13.5,"align":"center","baseline":"middle","dy":60,"color":"#1d6b1d"},"encoding":{"x":{"field":"building","type":"nominal","scale":{"type":"point","domain":["CE Duplex","RA labs","SNN building","FT building"],"range":[1961,1961],"padding":0},"axis":null},"y":{"field":"building","type":"nominal","scale":{"type":"point","domain":["CE Duplex","RA labs","SNN building","FT building"],"range":[240,877],"padding":0},"axis":null},"text":{"value":"Overall building SER index"}}},
{"data":{"name":"rows"},"transform":[{"calculate":"'Project ID : ' + datum.project + ' (' + datum.type + ')'","as":"sub"}],"mark":{"type":"text","font":"Lato","fontSize":8,"fontWeight":"bold","align":"center","baseline":"middle","dy":74,"color":"#222"},"encoding":{"x":{"field":"building","type":"nominal","scale":{"type":"point","domain":["CE Duplex","RA labs","SNN building","FT building"],"range":[1961,1961],"padding":0},"axis":null},"y":{"field":"building","type":"nominal","scale":{"type":"point","domain":["CE Duplex","RA labs","SNN building","FT building"],"range":[240,877],"padding":0},"axis":null},"text":{"field":"sub"}}}
]}
]
}
